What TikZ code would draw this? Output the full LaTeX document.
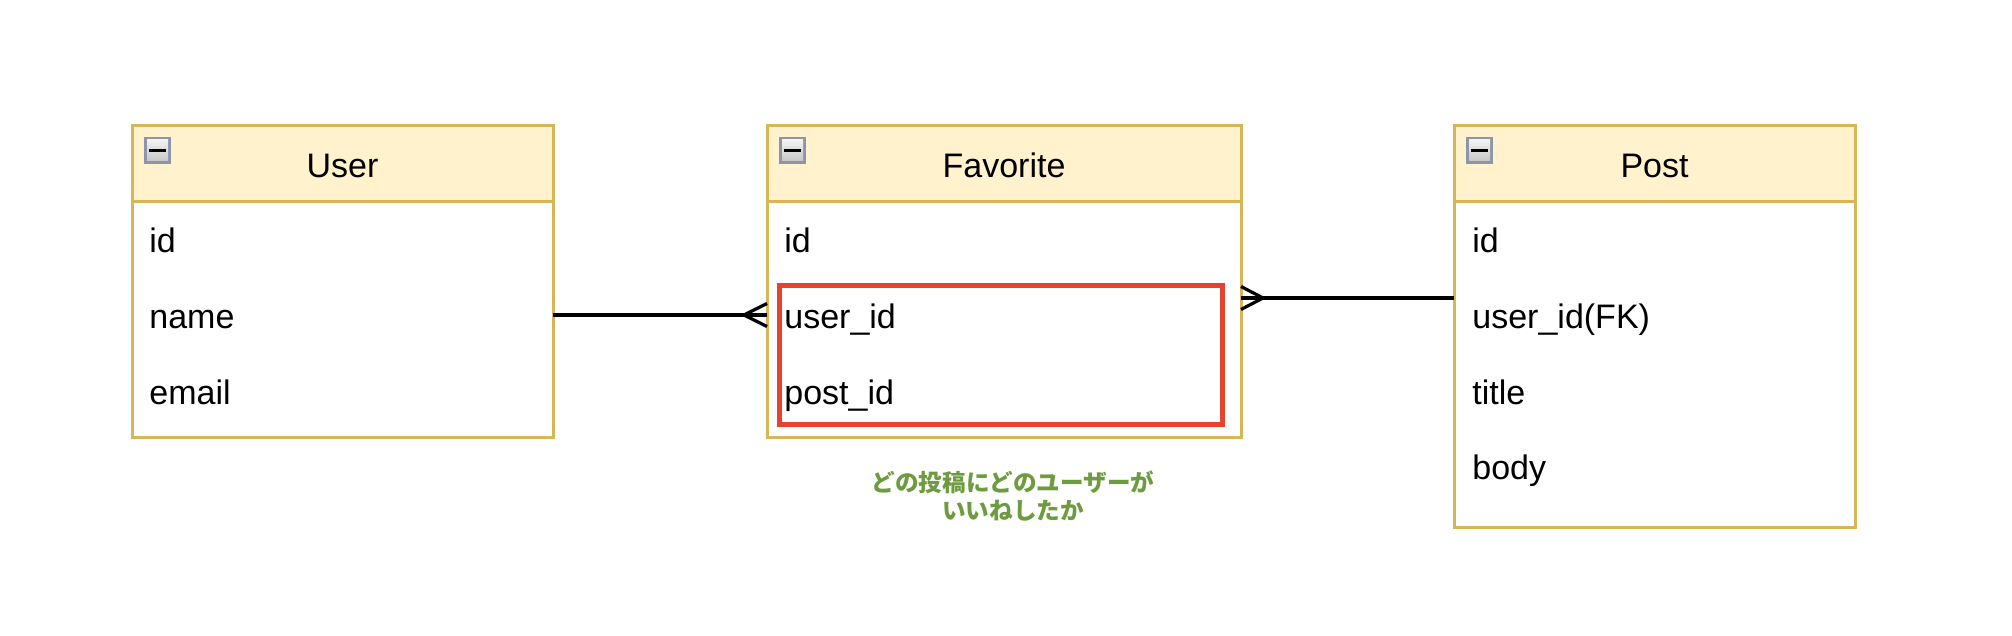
\documentclass[tikz,border=0pt]{standalone}
\usepackage{fontspec}
\setmainfont{Liberation Sans}
\newfontfamily\jpfont{Noto Sans CJK JP}
\usetikzlibrary{calc,fit}
\definecolor{hdrfill}{HTML}{FFF2CC}
\definecolor{hdrline}{HTML}{D6B656}
\definecolor{redline}{HTML}{E8412E}
\definecolor{jpgreen}{RGB}{109,156,63}
\definecolor{iconline}{HTML}{8C96A8}
\begin{document}
\begin{tikzpicture}[x=0.5pt,y=-0.5pt,
  tbody/.style={draw=hdrline, line width=1.5pt, fill=white, inner sep=0pt, outer sep=0pt, rectangle},
  thead/.style={draw=hdrline, line width=1.5pt, fill=hdrfill, inner sep=0pt, outer sep=0pt, rectangle},
  redbox/.style={draw=redline, line width=2.5pt, inner sep=0pt, outer sep=0pt, rectangle},
  ttl/.style={anchor=base, inner sep=0pt, font=\fontsize{17pt}{20pt}\selectfont},
  fld/.style={anchor=base west, inner sep=0pt, font=\fontsize{17pt}{20pt}\selectfont},
  conn/.style={draw=black, line width=1.6pt},
  note/.style={align=center, text=jpgreen, inner sep=0pt, font=\jpfont\bfseries\fontsize{11.8pt}{13.6pt}\selectfont},
  collapseicon/.pic={
    \fill[iconline] (0,0) rectangle (27,27);
    \shade[top color=white!90!gray, bottom color=gray!45] (3,3) rectangle (24,24);
    \fill[black] (5,12) rectangle (22,15);
  }]
\useasboundingbox (0,0) rectangle (2012,636);
\fill[white] (0,0) rectangle (2012,636);

% User table
\node[tbody, fit={(132,126) (553,437)}] (user) {};
\node[thead, fit={(132,126) (553,202)}] (userh) {};
\pic at (144,137) {collapseicon};
\node[ttl] (usert) at (342.5,178) {User};
\node[fld] (uid) at (149,253) {id};
\node[fld] (uname) at (149,328.5) {name};
\node[fld] (uemail) at (149,404) {email};

% Favorite table
\node[tbody, fit={(767,126) (1241,437)}] (fav) {};
\node[thead, fit={(767,126) (1241,202)}] (favh) {};
\pic at (779,137) {collapseicon};
\node[ttl] (favt) at (1004,178) {Favorite};
\node[fld] (fid) at (784,253) {id};
\node[redbox, fit={(779.5,285.5) (1222.5,424.5)}] (pk) {};
\node[fld] (fuid) at (784,328.5) {user\_id};
\node[fld] (fpid) at (784,404) {post\_id};

% Post table
\node[tbody, fit={(1454,126) (1855,527)}] (post) {};
\node[thead, fit={(1454,126) (1855,202)}] (posth) {};
\pic at (1466,137) {collapseicon};
\node[ttl] (postt) at (1654.5,178) {Post};
\node[fld] (pid) at (1472,253) {id};
\node[fld] (puid) at (1472,328.5) {user\_id(FK)};
\node[fld] (ptitle) at (1472,404) {title};
\node[fld] (pbody) at (1472,479) {body};

% connector User -- Favorite
\coordinate (y1) at (0,315);
\coordinate (fl) at (fav.west |- y1);
\draw[conn] (user.east |- y1) -- (fl);
\draw[conn] ($(fl)+(0,-11.5)$) -- ($(fl)+(-23,0)$) -- ($(fl)+(0,11.5)$);

% connector Favorite -- Post
\coordinate (y2) at (0,298);
\coordinate (fr) at (fav.east |- y2);
\draw[conn] (fr) -- (post.west |- y2);
\draw[conn] ($(fr)+(0,-11.5)$) -- ($(fr)+(22,0)$) -- ($(fr)+(0,11.5)$);

% note
\node[note] (memo) at (1013,496) {どの投稿にどのユーザーが\\いいねしたか};
\end{tikzpicture}
\end{document}
